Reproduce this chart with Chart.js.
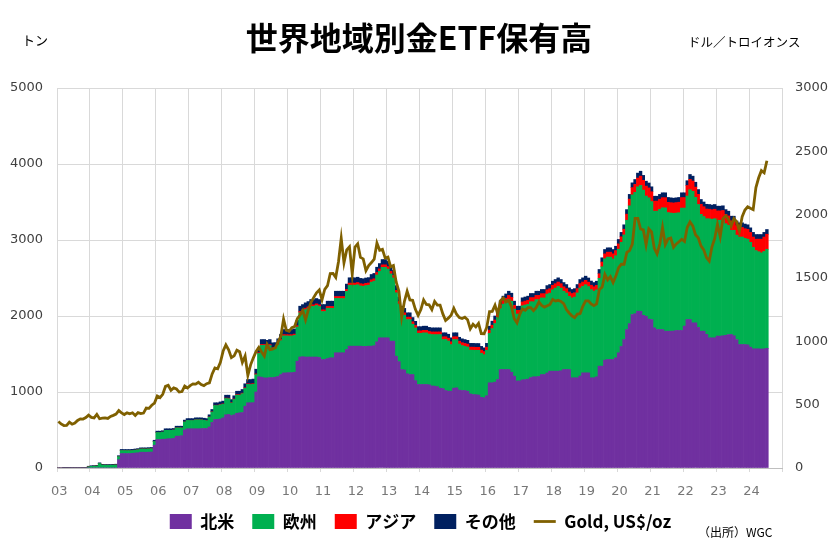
<!DOCTYPE html>
<html lang="ja">
<head>
<meta charset="utf-8">
<title>世界地域別金ETF保有高</title>
<script src="https://cdn.jsdelivr.net/npm/chart.js@4.4.1/dist/chart.umd.min.js"></script>
<style>
  html, body { margin: 0; padding: 0; background: #fff; }
  #wrap { width: 839px; height: 548px; }
</style>
</head>
<body>
<div id="wrap"><canvas id="etf_chart" width="839" height="548"></canvas></div>
<script>
'use strict';

// monthly, Jan 2003 .. Jul 2024 (tonnes)
const northAmerica = [
    0, 0, 0, 0, 0, 0, 0, 0, 0, 0, 0, 0,
    0, 0, 0, 0, 0, 0, 0, 0, 0, 0, 110, 190,
    190, 190, 190, 193, 197, 200, 208, 208, 207, 209, 210, 300,
    375, 375, 378, 380, 385, 385, 390, 418, 420, 425, 500, 516,
    516, 516, 516, 516, 518, 520, 520, 540, 600, 638, 640, 645,
    660, 700, 705, 690, 700, 720, 726, 730, 813, 858, 858, 860,
    1000, 1200, 1195, 1185, 1185, 1190, 1190, 1195, 1205, 1230, 1250, 1252,
    1255, 1255, 1260, 1405, 1460, 1465, 1460, 1460, 1460, 1460, 1460, 1455,
    1428, 1428, 1440, 1450, 1450, 1516, 1516, 1516, 1516, 1560, 1603, 1603,
    1603, 1603, 1603, 1600, 1600, 1603, 1603, 1610, 1660, 1713, 1713, 1713,
    1713, 1669, 1669, 1471, 1400, 1296, 1290, 1240, 1230, 1230, 1150, 1099,
    1099, 1099, 1099, 1095, 1080, 1077, 1070, 1050, 1045, 1020, 1011, 1011,
    1050, 1055, 1025, 1020, 1020, 1010, 975, 967, 965, 960, 930, 924,
    950, 1121, 1121, 1130, 1164, 1296, 1296, 1296, 1296, 1260, 1208, 1145,
    1145, 1160, 1164, 1170, 1190, 1200, 1200, 1205, 1230, 1230, 1250, 1274,
    1274, 1274, 1274, 1280, 1296, 1296, 1296, 1187, 1187, 1187, 1210, 1252,
    1252, 1252, 1187, 1187, 1200, 1340, 1340, 1420, 1428, 1428, 1428, 1450,
    1516, 1600, 1691, 1822, 1900, 2020, 2030, 2063, 2063, 2010, 1997, 1960,
    1954, 1844, 1822, 1822, 1822, 1800, 1800, 1800, 1800, 1810, 1810, 1810,
    1866, 1954, 1954, 1910, 1910, 1850, 1800, 1800, 1760, 1713, 1713, 1713,
    1735, 1735, 1740, 1745, 1757, 1757, 1740, 1691, 1625, 1625, 1625, 1620,
    1590, 1568, 1568, 1568, 1565, 1568, 1575
];

const europe = [
    0, 0, 0, 0, 0, 0, 0, 0, 0, 0, 0, 15,
    22, 24, 26, 59, 39, 37, 37, 36, 38, 40, 40, 40,
    39, 39, 39, 37, 38, 40, 42, 42, 42, 43, 44, 49,
    92, 92, 94, 116, 111, 111, 110, 110, 108, 103, 106, 110,
    109, 109, 118, 118, 116, 108, 102, 130, 137, 185, 182, 187,
    179, 215, 207, 164, 202, 239, 232, 248, 235, 243, 240, 241,
    228, 307, 418, 428, 417, 422, 378, 375, 414, 446, 489, 486,
    482, 482, 485, 450, 581, 596, 624, 640, 667, 666, 679, 670,
    631, 631, 662, 652, 651, 716, 715, 714, 713, 763, 802, 802,
    802, 808, 793, 790, 800, 802, 842, 849, 880, 875, 927, 927,
    904, 885, 832, 835, 758, 743, 720, 713, 723, 662, 693, 674,
    673, 679, 678, 667, 676, 678, 685, 706, 645, 671, 660, 613,
    640, 634, 606, 591, 581, 581, 576, 583, 583, 588, 580, 567,
    598, 650, 713, 771, 820, 801, 860, 888, 924, 935, 883, 880,
    880, 974, 980, 984, 998, 987, 1016, 1010, 1008, 1007, 1038, 1027,
    1071, 1093, 1115, 1087, 1031, 1006, 963, 1051, 1062, 1116, 1158, 1137,
    1159, 1135, 1160, 1140, 1144, 1156, 1308, 1334, 1347, 1346, 1323, 1343,
    1363, 1370, 1376, 1438, 1550, 1574, 1597, 1637, 1655, 1647, 1582, 1595,
    1551, 1535, 1558, 1582, 1602, 1623, 1561, 1555, 1550, 1544, 1549, 1610,
    1554, 1625, 1707, 1730, 1651, 1617, 1538, 1508, 1520, 1566, 1560, 1567,
    1524, 1524, 1524, 1469, 1436, 1371, 1388, 1373, 1414, 1414, 1397, 1391,
    1379, 1336, 1293, 1278, 1266, 1281, 1303
];

const asia = [
    0, 0, 0, 0, 0, 0, 0, 0, 0, 0, 0, 0,
    0, 0, 0, 0, 0, 0, 0, 0, 0, 0, 0, 0,
    0, 0, 0, 0, 0, 0, 0, 0, 0, 0, 0, 0,
    0, 0, 0, 0, 0, 0, 0, 0, 0, 0, 0, 0,
    0, 0, 0, 0, 0, 0, 1, 2, 3, 3, 4, 4,
    5, 5, 6, 6, 6, 7, 7, 7, 8, 8, 8, 9,
    10, 11, 12, 12, 13, 13, 14, 14, 15, 15, 16, 16,
    17, 17, 17, 18, 18, 19, 19, 20, 20, 21, 21, 22,
    22, 22, 23, 23, 24, 24, 25, 26, 27, 27, 28, 28,
    28, 29, 29, 30, 30, 30, 31, 31, 32, 32, 33, 33,
    33, 33, 33, 32, 32, 32, 32, 32, 32, 32, 32, 32,
    33, 33, 34, 34, 34, 35, 35, 35, 36, 36, 37, 37,
    37, 38, 38, 38, 38, 39, 39, 40, 40, 40, 41, 41,
    42, 43, 45, 46, 47, 48, 49, 50, 50, 50, 50, 50,
    50, 51, 52, 53, 54, 55, 55, 56, 56, 57, 57, 58,
    58, 58, 58, 58, 58, 58, 57, 57, 57, 57, 58, 58,
    58, 58, 58, 58, 59, 60, 62, 64, 65, 66, 67, 68,
    70, 72, 75, 80, 88, 95, 105, 115, 122, 128, 130, 130,
    130, 132, 132, 132, 133, 134, 135, 136, 137, 138, 138, 138,
    138, 138, 137, 136, 135, 134, 132, 130, 128, 126, 125, 125,
    124, 124, 124, 124, 124, 124, 124, 125, 126, 126, 127, 128,
    130, 135, 150, 165, 180, 190, 198
];

const others = [
    0, 0, 3, 4, 5, 6, 6, 7, 7, 8, 8, 8,
    8, 8, 9, 9, 9, 9, 9, 10, 10, 10, 12, 14,
    14, 14, 14, 15, 15, 15, 15, 15, 16, 16, 16, 16,
    18, 18, 18, 20, 20, 20, 20, 22, 22, 22, 24, 24,
    25, 25, 26, 26, 26, 27, 27, 28, 30, 32, 32, 34,
    36, 38, 40, 40, 42, 44, 45, 48, 52, 55, 58, 60,
    62, 64, 65, 65, 65, 65, 65, 66, 66, 66, 67, 68,
    68, 68, 68, 69, 70, 70, 70, 70, 70, 70, 70, 70,
    70, 70, 70, 70, 70, 70, 70, 70, 70, 70, 70, 70,
    70, 70, 70, 70, 70, 70, 70, 70, 70, 70, 70, 70,
    70, 68, 66, 62, 60, 58, 58, 57, 57, 56, 55, 55,
    55, 55, 55, 54, 54, 54, 54, 53, 53, 52, 52, 52,
    52, 52, 51, 51, 51, 50, 50, 50, 50, 50, 49, 49,
    50, 52, 53, 53, 54, 55, 56, 56, 56, 55, 54, 54,
    54, 54, 54, 54, 54, 54, 55, 55, 55, 55, 55, 55,
    55, 55, 55, 55, 55, 54, 54, 54, 54, 54, 54, 55,
    55, 55, 55, 55, 55, 56, 56, 57, 57, 57, 57, 57,
    58, 58, 58, 60, 62, 63, 64, 65, 65, 65, 65, 65,
    65, 65, 64, 64, 64, 64, 64, 64, 63, 63, 63, 63,
    63, 63, 64, 64, 64, 63, 63, 62, 62, 62, 62, 62,
    62, 62, 62, 62, 62, 61, 61, 61, 61, 61, 61, 61,
    61, 61, 61, 61, 61, 61, 62
];

// month-end gold price, US$/oz
const goldPrice = [
    367.5, 347.5, 334.9, 336.8, 361.4, 346.0, 354.8, 375.6, 388.0, 386.3, 398.4, 417.3,
    399.8, 395.9, 423.7, 388.5, 393.3, 395.8, 391.4, 407.3, 415.7, 425.6, 453.4, 435.6,
    422.2, 435.5, 427.5, 435.7, 414.5, 437.1, 429.0, 433.3, 473.3, 470.8, 495.7, 513.0,
    568.8, 556.0, 582.0, 644.0, 653.0, 613.5, 632.5, 623.5, 599.3, 603.8, 646.7, 632.0,
    650.5, 664.2, 661.8, 677.0, 659.1, 650.5, 665.5, 672.0, 743.0, 789.5, 783.5, 833.8,
    923.3, 971.5, 933.5, 871.0, 885.8, 930.3, 918.0, 833.0, 884.5, 730.8, 814.5, 869.8,
    919.5, 952.0, 916.5, 883.3, 975.5, 934.5, 939.0, 949.5, 995.8, 1040.0, 1175.8, 1087.5,
    1078.5, 1108.3, 1115.5, 1179.3, 1207.5, 1244.0, 1169.0, 1246.0, 1307.0, 1346.8, 1383.5, 1405.5,
    1327.0, 1411.0, 1439.0, 1535.5, 1536.5, 1505.5, 1628.5, 1813.5, 1620.0, 1722.0, 1746.0, 1531.0,
    1744.0, 1770.0, 1662.5, 1651.3, 1558.0, 1598.5, 1622.0, 1648.5, 1776.0, 1719.0, 1726.0, 1657.5,
    1664.8, 1588.5, 1598.3, 1469.0, 1394.5, 1192.0, 1314.5, 1394.8, 1326.5, 1324.0, 1253.0, 1204.5,
    1251.0, 1326.5, 1291.8, 1288.5, 1250.5, 1315.0, 1285.3, 1285.8, 1216.5, 1164.3, 1182.8, 1206.0,
    1260.3, 1214.0, 1187.0, 1180.3, 1190.0, 1171.0, 1098.4, 1135.0, 1114.0, 1142.4, 1061.1, 1060.0,
    1111.8, 1234.9, 1237.0, 1285.7, 1214.7, 1320.8, 1342.0, 1311.4, 1322.5, 1272.0, 1178.1, 1145.9,
    1212.8, 1255.6, 1244.9, 1266.5, 1266.2, 1242.3, 1267.6, 1311.8, 1283.1, 1270.2, 1280.2, 1291.0,
    1331.3, 1317.9, 1323.9, 1315.1, 1298.5, 1250.5, 1223.7, 1201.5, 1187.3, 1214.9, 1219.2, 1279.0,
    1319.8, 1319.2, 1295.4, 1281.4, 1295.7, 1409.0, 1427.6, 1528.4, 1485.3, 1510.9, 1463.7, 1514.8,
    1582.3, 1609.9, 1608.9, 1702.8, 1715.9, 1768.1, 1970.7, 1970.7, 1886.9, 1879.9, 1762.6, 1887.6,
    1863.4, 1734.0, 1691.1, 1768.1, 1899.0, 1763.2, 1807.8, 1814.9, 1742.8, 1769.0, 1785.8, 1805.9,
    1788.2, 1900.7, 1942.2, 1911.3, 1841.2, 1817.0, 1753.4, 1722.4, 1660.6, 1633.6, 1746.0, 1812.4,
    1923.9, 1826.9, 1969.0, 1990.0, 1962.7, 1912.3, 1970.0, 1942.1, 1870.1, 1983.4, 2036.4, 2062.4,
    2050.6, 2039.5, 2214.4, 2291.1, 2347.7, 2330.9, 2426.1
];

const yearTicks = ['03', '04', '05', '06', '07', '08', '09', '10', '11', '12', '13',
    '14', '15', '16', '17', '18', '19', '20', '21', '22', '23', '24'];

const seriesNames = ['北米', '欧州', 'アジア', 'その他', 'Gold, US$/oz'];

// one category per month, axis runs to the end of 2024
const months = [];
yearTicks.forEach(yy => {
    for (let m = 1; m <= 12; m++) {
        months.push('20' + yy + '-' + String(m).padStart(2, '0'));
    }
});

const gridColor = '#d9d9d9';
const tickFont = { family: '"DejaVu Sans"', size: 13 };

const headerText = {
    id: 'headerText',
    afterDraw(chart) {
        const ctx = chart.ctx;
        ctx.save();
        ctx.fillStyle = '#000';
        ctx.textBaseline = 'middle';
        ctx.textAlign = 'center';
        ctx.font = 'bold 32px "Noto Sans CJK JP"';
        ctx.fillText('世界地域別金ETF保有高', 419, 38);
        ctx.textAlign = 'left';
        ctx.font = '13px "Noto Sans CJK JP"';
        ctx.fillText('トン', 22, 40);
        ctx.font = '12.5px "Noto Sans CJK JP"';
        ctx.fillText('ドル／トロイオンス', 688, 42);
        ctx.font = '12px "Noto Sans CJK JP"';
        ctx.fillText('（出所）WGC', 698, 532);
        ctx.restore();
    }
};

function barSet(label, data, color) {
    return {
        type: 'bar',
        label: label,
        data: data,
        backgroundColor: color,
        borderWidth: 0,
        barPercentage: 1,
        categoryPercentage: 1,
        pointStyle: 'rect',
        yAxisID: 'y',
        order: 1
    };
}

const ctx = document.getElementById('etf_chart').getContext('2d');
new Chart(ctx, {
    type: 'bar',
    data: {
        labels: months,
        datasets: [
            barSet(seriesNames[0], northAmerica, '#7030a0'),
            barSet(seriesNames[1], europe, '#00b050'),
            barSet(seriesNames[2], asia, '#ff0000'),
            barSet(seriesNames[3], others, '#002060'),
            {
                type: 'line',
                label: seriesNames[4],
                data: goldPrice,
                borderColor: '#7f6000',
                backgroundColor: '#7f6000',
                borderWidth: 2.8,
                pointRadius: 0,
                pointStyle: 'line',
                tension: 0,
                yAxisID: 'y1',
                order: 0
            }
        ]
    },
    options: {
        responsive: false,
        animation: false,
        layout: { padding: { top: 88, left: 7, right: 5, bottom: 8 } },
        plugins: {
            title: { display: false },
            tooltip: { enabled: false },
            legend: {
                position: 'bottom',
                labels: {
                    usePointStyle: true,
                    pointStyleWidth: 22,
                    boxHeight: 15,
                    padding: 18,
                    color: '#000',
                    font: { family: '"Noto Sans CJK JP"', size: 17, weight: 'bold' },
                    sort: (a, b) => a.datasetIndex - b.datasetIndex
                }
            }
        },
        scales: {
            x: {
                stacked: true,
                offset: true,
                grid: {
                    offset: true,
                    tickLength: 4,
                    color: (c) => (c.index === undefined || c.index % 12 === 0) ? gridColor : 'rgba(0,0,0,0)'
                },
                border: { color: '#bfbfbf' },
                ticks: {
                    autoSkip: false,
                    maxRotation: 0,
                    minRotation: 0,
                    padding: 12,
                    labelOffset: 1,
                    color: '#777',
                    font: tickFont,
                    callback: (v, i) => (i % 12 === 0 ? yearTicks[i / 12] : '')
                },
                afterFit(scale) { scale.height = 27; }
            },
            y: {
                stacked: true,
                position: 'left',
                min: 0,
                max: 5000,
                ticks: { stepSize: 1000, padding: 14, color: '#404040', font: tickFont, callback: v => String(v) },
                grid: { color: gridColor, drawTicks: false },
                border: { display: false },
                afterFit(scale) { scale.width = 50; }
            },
            y1: {
                position: 'right',
                min: 0,
                max: 3000,
                ticks: { stepSize: 500, padding: 5, color: '#404040', font: tickFont, callback: v => String(v) },
                grid: { display: false },
                border: { display: false },
                afterFit(scale) { scale.width = 52; }
            }
        }
    },
    plugins: [headerText]
});
</script>
</body>
</html>
